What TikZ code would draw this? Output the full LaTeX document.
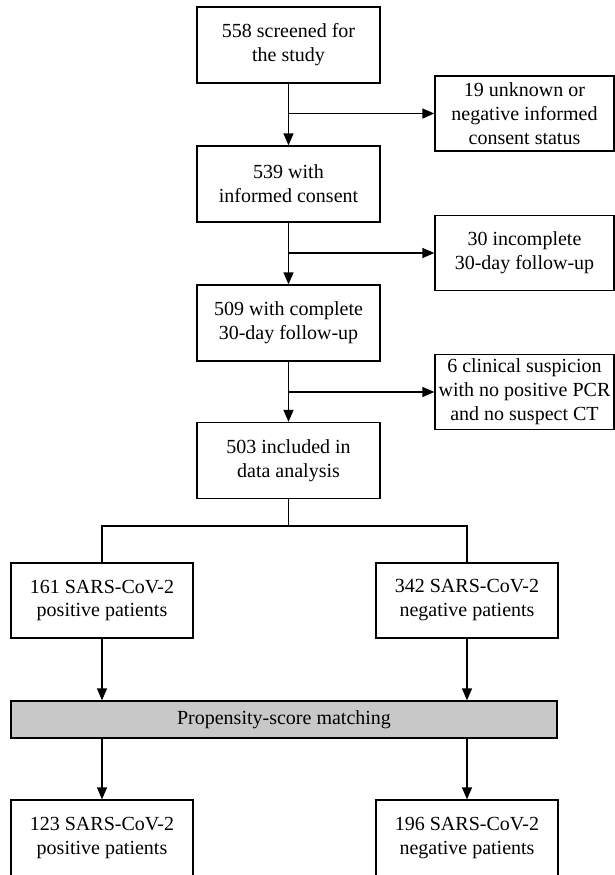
\documentclass[tikz,border=0pt]{standalone}
\usepackage{fontspec}
\setmainfont{Liberation Serif}
\usetikzlibrary{arrows.meta}
\definecolor{psmgray}{RGB}{200,200,200}
\begin{document}
\begin{tikzpicture}[x=1pt,y=-1pt,
  every node/.style={font=\fontsize{20}{24}\selectfont, align=center, inner sep=0pt},
  box/.style={draw, line width=1.3pt, rectangle, minimum width=183pt, minimum height=76pt},
  sidebox/.style={draw, line width=1.3pt, rectangle, minimum width=179pt, minimum height=75pt},
  lowbox/.style={draw, line width=1.3pt, rectangle, minimum width=182pt, minimum height=75pt},
  psmbar/.style={draw, line width=1.3pt, rectangle, fill=psmgray, minimum width=546pt, minimum height=37pt},
  arr/.style={line width=1.3pt, -{Triangle[length=12pt,width=10pt]}},
  ln/.style={line width=1.3pt}]
\useasboundingbox (0,0) rectangle (615,875);
\fill[white] (0,0) rectangle (615,875);

\node[box] (b1) at (288.5,45) {558 screened for\\the study};
\node[box] (b2) at (288.5,184) {539 with\\informed consent};
\node[box] (b3) at (288.5,323) {509 with complete\\30-day follow-up};
\node[box] (b4) at (288.5,460.5) {503 included in\\data analysis};

\node[sidebox] (s1) at (524.5,113.5) {19 unknown or\\negative informed\\consent status};
\node[sidebox] (s2) at (524.5,253) {30 incomplete\\30-day follow-up};
\node[sidebox] (s3) at (524.5,392) {6 clinical suspicion\\with no positive PCR\\and no suspect CT};

\node[lowbox] (l1) at (102,600.5) {161 SARS-CoV-2\\positive patients};
\node[lowbox] (r1) at (467,600.5) {342 SARS-CoV-2\\negative patients};

\node[psmbar] (psm) at (284,719.5) {Propensity-score matching};

\node[lowbox, minimum height=76pt] (l2) at (102,838) {123 SARS-CoV-2\\positive patients};
\node[lowbox, minimum height=76pt] (r2) at (467,838) {196 SARS-CoV-2\\negative patients};

\draw[arr] (b1.south) -- (b2.north);
\draw[arr] (b1.south |- s1.west) -- (s1.west);
\draw[arr] (b2.south) -- (b3.north);
\draw[arr] (b2.south |- s2.west) -- (s2.west);
\draw[arr] (b3.south) -- (b4.north);
\draw[arr] (b3.south |- s3.west) -- (s3.west);

\coordinate (split) at (288.5,526);
\draw[ln] (b4.south) -- (split);
\draw[ln] (l1.north) |- (split) -| (r1.north);

\draw[arr] (l1.south) -- (l1.south |- psm.north);
\draw[arr] (r1.south) -- (r1.south |- psm.north);
\draw[arr] (psm.south -| l2.north) -- (l2.north);
\draw[arr] (psm.south -| r2.north) -- (r2.north);
\end{tikzpicture}
\end{document}
